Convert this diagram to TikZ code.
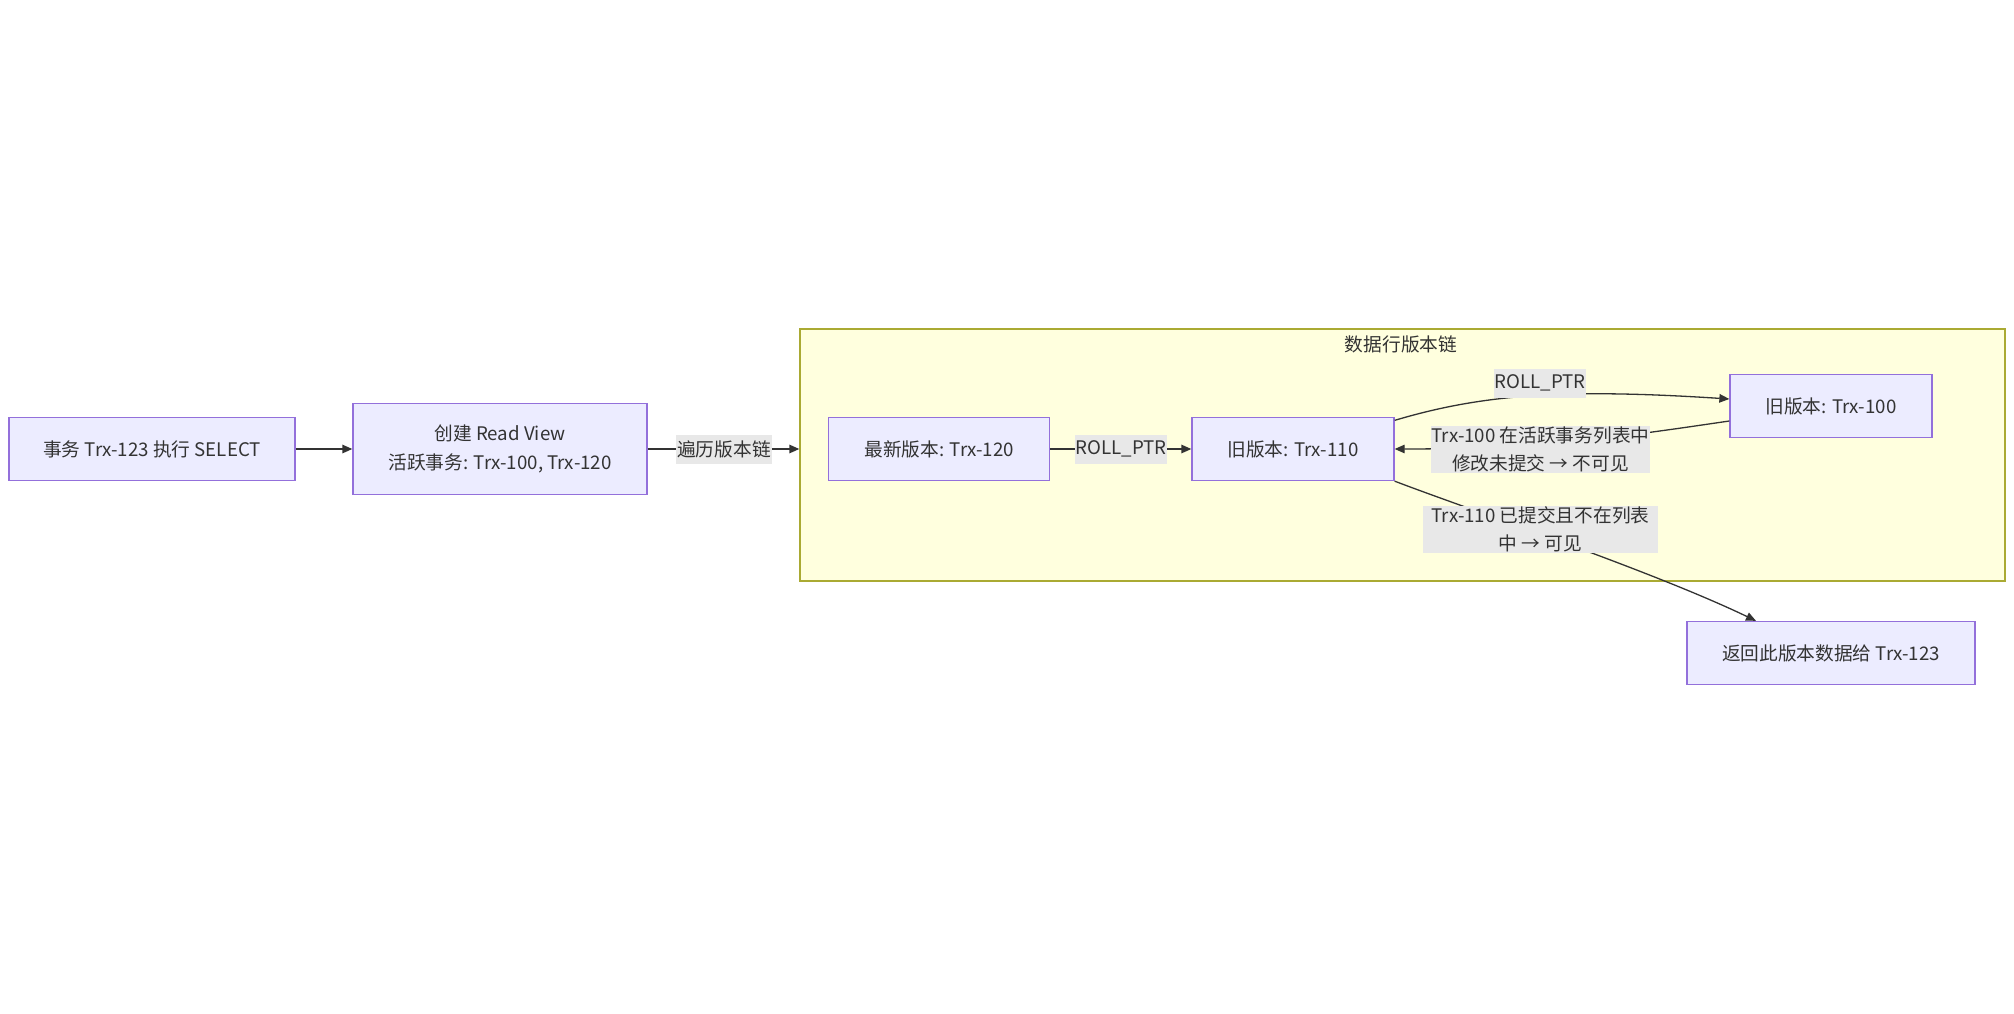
\documentclass[tikz,border=0pt]{standalone}
\usepackage{fontspec}
\setmainfont{Noto Sans CJK SC}
\usetikzlibrary{arrows.meta}
\definecolor{nodefill}{HTML}{ECECFF}
\definecolor{nodeline}{HTML}{9370DB}
\definecolor{clfill}{HTML}{FFFFDE}
\definecolor{clline}{HTML}{AAAA33}
\definecolor{txt}{HTML}{333333}
\definecolor{lblbg}{HTML}{E8E8E8}
\newcommand\dfont{\fontsize{18.7pt}{28.5pt}\selectfont}
\begin{document}
\begin{tikzpicture}[x=1pt,y=-1pt,
  box/.style={draw=nodeline, fill=nodefill, line width=1.3pt, text=txt, inner sep=0pt, align=center, font=\dfont, minimum height=63pt},
  cluster/.style={draw=clline, fill=clfill, line width=1.3pt, inner sep=0pt},
  edge/.style={draw=txt, line width=1.3pt, -{Triangle[length=10pt,width=8.5pt]}},
  elabel/.style={fill=lblbg, text=txt, inner xsep=1pt, inner ysep=1pt, align=center, font=\dfont, minimum height=29pt}]
\useasboundingbox (0,0) rectangle (2014,1014);
% cluster
\node[cluster, minimum width=1205pt, minimum height=252pt] (cl) at (1402.5,455) {};
\node[text=txt, font=\dfont] (clt) at (1401,344) {数据行版本链};
% nodes
\node[box, minimum width=286pt] (n1) at (152,449) {事务 Trx-123 执行 SELECT};
\node[box, minimum width=294pt, minimum height=91pt] (n2) at (500,449) {创建 Read View\\活跃事务: Trx-100, Trx-120};
\node[box, minimum width=221pt] (n3) at (939.2,449) {最新版本: Trx-120};
\node[box, minimum width=202pt] (n4) at (1293,449) {旧版本: Trx-110};
\node[box, minimum width=202pt] (n5) at (1831,406) {旧版本: Trx-100};
\node[box, minimum width=288pt] (n6) at (1831,653) {返回此版本数据给 Trx-123};
% edges
\draw[edge] (n1.east) -- (n2.west);
\draw[edge] (n2.east) -- (n2.east -| cl.west);
\draw[edge] (n3.east) -- (n4.west);
\draw[edge] ([yshift=-3.5pt]n4.north east) .. controls (1480,395) and (1560,388) .. ([yshift=7pt]n5.west);
\draw[edge] ([yshift=-15pt]n5.west) .. controls (1620,437) and (1540,449) .. (n4.east);
\draw[edge] (n4.south east) .. controls (1470,510) and (1650,570) .. ([xshift=-75pt]n6.north);
% edge labels
\node[elabel] (l1) at (724,449) {遍历版本链};
\node[elabel] (l2) at (1121,449) {ROLL\_PTR};
\node[elabel] (l3) at (1540,383) {ROLL\_PTR};
\node[elabel] (l4) at (1540.5,449.5) {Trx-100 在活跃事务列表中\\修改未提交 → 不可见};
\node[elabel, inner xsep=9pt] (l5) at (1540.5,529.5) {Trx-110 已提交且不在列表\\中 → 可见};
\end{tikzpicture}
\end{document}
